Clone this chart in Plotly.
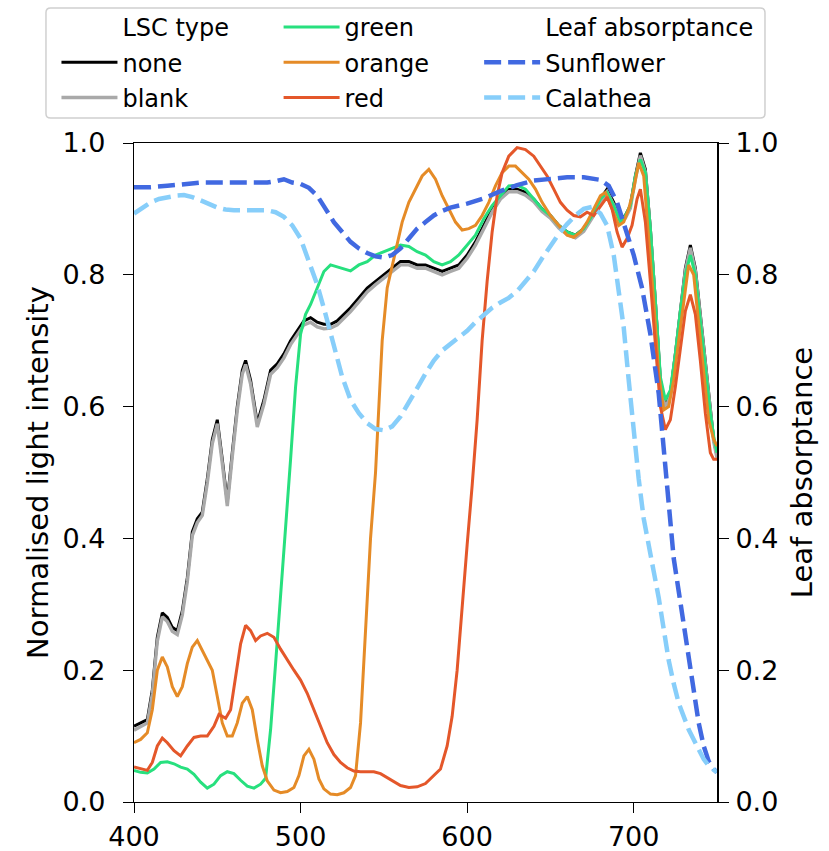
import plotly.graph_objects as go

# ---------------------------------------------------------------------------
# Normalised light intensity transmitted through each LSC type (left axis)
# ---------------------------------------------------------------------------
wl_none = [400, 404, 408, 411, 414, 417, 420, 423, 426, 429, 432, 435, 438, 441,
           444, 447, 450, 453, 456, 459, 462, 465, 467, 470, 474, 478, 482, 486,
           490, 494, 498, 502, 506, 510, 514, 518, 522, 526, 530, 535, 540, 545,
           550, 555, 560, 565, 570, 575, 580, 585, 590, 595, 600, 605, 610, 615,
           620, 625, 630, 635, 640, 645, 650, 655, 660, 665, 670, 675, 680, 684,
           688, 692, 695, 698, 701, 704, 707, 710, 713, 716, 719, 722, 725, 728,
           731, 734, 737, 740, 743, 746, 748, 750]
int_none = [0.115, 0.12, 0.125, 0.17, 0.25, 0.287, 0.28, 0.265, 0.26, 0.29, 0.34,
            0.41, 0.43, 0.44, 0.49, 0.55, 0.58, 0.52, 0.455, 0.53, 0.6, 0.655,
            0.67, 0.64, 0.575, 0.61, 0.655, 0.665, 0.68, 0.7, 0.715, 0.73, 0.735,
            0.728, 0.725, 0.725, 0.73, 0.74, 0.75, 0.765, 0.78, 0.79, 0.80, 0.81,
            0.82, 0.82, 0.815, 0.815, 0.81, 0.805, 0.81, 0.815, 0.83, 0.85, 0.875,
            0.9, 0.92, 0.93, 0.93, 0.925, 0.915, 0.9, 0.89, 0.875, 0.865, 0.86,
            0.87, 0.89, 0.915, 0.93, 0.91, 0.885, 0.89, 0.905, 0.95, 0.985, 0.96,
            0.87, 0.76, 0.64, 0.6, 0.62, 0.68, 0.75, 0.81, 0.845, 0.81, 0.74,
            0.67, 0.59, 0.55, 0.525]

wl_blank = wl_none
int_blank = [0.109, 0.114, 0.12, 0.164, 0.244, 0.281, 0.274, 0.259, 0.254, 0.284,
             0.334, 0.404, 0.424, 0.435, 0.484, 0.544, 0.574, 0.514, 0.449, 0.524,
             0.594, 0.649, 0.664, 0.634, 0.569, 0.604, 0.649, 0.659, 0.674, 0.694,
             0.709, 0.724, 0.728, 0.721, 0.718, 0.719, 0.724, 0.734, 0.744, 0.759,
             0.774, 0.785, 0.795, 0.805, 0.815, 0.815, 0.81, 0.81, 0.805, 0.8,
             0.805, 0.81, 0.825, 0.845, 0.87, 0.895, 0.915, 0.926, 0.926, 0.921,
             0.911, 0.896, 0.886, 0.871, 0.861, 0.856, 0.866, 0.886, 0.911, 0.926,
             0.906, 0.881, 0.886, 0.901, 0.946, 0.981, 0.956, 0.866, 0.756, 0.637,
             0.597, 0.617, 0.677, 0.746, 0.806, 0.841, 0.806, 0.736, 0.666, 0.587,
             0.547, 0.522]

wl_green = [400, 404, 408, 412, 416, 420, 424, 428, 432, 436, 440, 444, 448, 452,
            456, 460, 464, 468, 472, 476, 479, 482, 485, 488, 491, 494, 497, 500,
            503, 506, 510, 514, 518, 522, 526, 530, 535, 540, 545, 550, 555, 560,
            565, 570, 575, 580, 585, 590, 595, 600, 605, 610, 615, 620, 625, 630,
            635, 640, 645, 650, 655, 660, 665, 670, 675, 680, 684, 688, 692, 695,
            698, 701, 704, 707, 710, 713, 716, 719, 722, 725, 728, 731, 734, 737,
            740, 743, 746, 748, 750]
int_green = [0.048, 0.045, 0.044, 0.05, 0.06, 0.061, 0.058, 0.053, 0.05, 0.042,
             0.03, 0.021, 0.027, 0.04, 0.046, 0.043, 0.033, 0.024, 0.021, 0.027,
             0.036, 0.11, 0.21, 0.31, 0.41, 0.52, 0.63, 0.71, 0.74, 0.755, 0.78,
             0.805, 0.815, 0.812, 0.808, 0.806, 0.815, 0.82, 0.83, 0.835, 0.84,
             0.845, 0.843, 0.835, 0.83, 0.82, 0.815, 0.82, 0.83, 0.845, 0.86,
             0.885, 0.905, 0.92, 0.935, 0.936, 0.93, 0.915, 0.9, 0.89, 0.875,
             0.865, 0.86, 0.87, 0.89, 0.915, 0.925, 0.905, 0.88, 0.89, 0.905,
             0.95, 0.975, 0.955, 0.87, 0.76, 0.645, 0.61, 0.625, 0.68, 0.745, 0.8,
             0.83, 0.8, 0.73, 0.665, 0.59, 0.555, 0.53]

wl_orange = [400, 404, 408, 411, 414, 417, 420, 423, 426, 429, 432, 435, 438, 441,
             444, 447, 450, 453, 456, 459, 462, 465, 468, 471, 474, 477, 480, 484,
             488, 492, 496, 499, 502, 505, 508, 511, 514, 518, 522, 526, 530, 533,
             536, 539, 542, 545, 547, 549, 552, 555, 558, 561, 565, 569, 573, 577,
             581, 585, 589, 593, 597, 601, 605, 609, 613, 617, 621, 625, 629, 633,
             637, 641, 645, 650, 655, 660, 664, 668, 672, 676, 680, 683, 687, 691,
             694, 697, 700, 703, 706, 709, 712, 715, 718, 721, 724, 727, 730, 733,
             736, 739, 742, 745, 748, 750]
int_orange = [0.09, 0.095, 0.105, 0.14, 0.2, 0.22, 0.205, 0.175, 0.16, 0.175,
              0.21, 0.235, 0.245, 0.23, 0.215, 0.2, 0.16, 0.12, 0.1, 0.1, 0.12,
              0.15, 0.16, 0.14, 0.095, 0.055, 0.032, 0.018, 0.014, 0.016, 0.022,
              0.04, 0.07, 0.08, 0.065, 0.035, 0.02, 0.012, 0.011, 0.014, 0.022,
              0.04, 0.12, 0.26, 0.4, 0.5, 0.6, 0.7, 0.78, 0.815, 0.85, 0.88, 0.91,
              0.93, 0.95, 0.96, 0.945, 0.92, 0.9, 0.88, 0.868, 0.87, 0.875, 0.89,
              0.91, 0.935, 0.955, 0.965, 0.965, 0.955, 0.945, 0.93, 0.91, 0.89,
              0.875, 0.86, 0.857, 0.865, 0.88, 0.9, 0.92, 0.925, 0.9, 0.875, 0.88,
              0.9, 0.93, 0.97, 0.95, 0.86, 0.76, 0.65, 0.595, 0.6, 0.64, 0.7,
              0.76, 0.815, 0.8, 0.73, 0.65, 0.58, 0.55, 0.54]

wl_red = [400, 404, 408, 411, 414, 417, 420, 424, 428, 432, 436, 440, 444, 448,
          451, 455, 458, 461, 464, 467, 470, 473, 476, 480, 484, 488, 492, 496,
          500, 504, 508, 512, 516, 520, 524, 528, 532, 536, 540, 544, 548, 552,
          556, 560, 565, 570, 575, 580, 584, 588, 591, 594, 597, 600, 603, 606,
          609, 612, 615, 618, 621, 625, 630, 635, 640, 644, 648, 652, 656, 660,
          664, 668, 672, 676, 680, 684, 687, 690, 693, 696, 699, 702, 704, 707,
          710, 713, 716, 719, 722, 725, 728, 731, 734, 737, 740, 743, 746, 748,
          750]
int_red = [0.053, 0.05, 0.048, 0.06, 0.085, 0.097, 0.09, 0.078, 0.07, 0.085,
           0.098, 0.1, 0.1, 0.115, 0.133, 0.127, 0.14, 0.19, 0.24, 0.268, 0.26,
           0.245, 0.252, 0.256, 0.25, 0.232, 0.215, 0.2, 0.185, 0.165, 0.14,
           0.115, 0.09, 0.072, 0.06, 0.052, 0.047, 0.046, 0.046, 0.046, 0.043,
           0.037, 0.03, 0.025, 0.022, 0.023, 0.028, 0.04, 0.05, 0.085, 0.13, 0.2,
           0.3, 0.39, 0.48, 0.58, 0.7, 0.79, 0.865, 0.92, 0.955, 0.98, 0.993,
           0.99, 0.98, 0.965, 0.95, 0.93, 0.91, 0.898, 0.89, 0.888, 0.895, 0.89,
           0.905, 0.918, 0.9, 0.865, 0.842, 0.855, 0.875, 0.915, 0.93, 0.88,
           0.79, 0.69, 0.6, 0.565, 0.58, 0.63, 0.69, 0.745, 0.77, 0.74, 0.67,
           0.59, 0.53, 0.52, 0.52]

# ---------------------------------------------------------------------------
# Leaf absorptance spectra (right axis)
# ---------------------------------------------------------------------------
wl_sunflower = [400, 410, 420, 430, 440, 450, 460, 470, 480, 485, 490, 495, 500,
                505, 510, 515, 520, 525, 530, 535, 540, 545, 550, 555, 560, 565,
                570, 575, 580, 585, 590, 600, 610, 620, 630, 640, 650, 660, 670,
                680, 685, 690, 695, 700, 705, 710, 715, 718, 721, 724, 727, 730,
                733, 736, 739, 742, 745, 748, 750]
abs_sunflower = [0.933, 0.933, 0.935, 0.937, 0.94, 0.94, 0.94, 0.94, 0.94, 0.942,
                 0.945, 0.94, 0.938, 0.932, 0.92, 0.9, 0.88, 0.865, 0.85, 0.84,
                 0.833, 0.828, 0.826, 0.83, 0.84, 0.855, 0.87, 0.88, 0.89, 0.897,
                 0.902, 0.908, 0.916, 0.927, 0.936, 0.943, 0.946, 0.948, 0.948,
                 0.944, 0.935, 0.91, 0.87, 0.83, 0.78, 0.71, 0.62, 0.53, 0.44,
                 0.37, 0.32, 0.27, 0.22, 0.17, 0.12, 0.085, 0.062, 0.05, 0.045]

wl_calathea = [400, 405, 410, 415, 420, 425, 430, 435, 440, 445, 450, 455, 460,
               470, 480, 485, 490, 495, 500, 505, 510, 515, 520, 525, 530, 535,
               540, 545, 550, 555, 560, 565, 570, 575, 580, 585, 590, 595, 600,
               605, 610, 615, 620, 625, 630, 635, 640, 645, 650, 655, 660, 665,
               670, 675, 680, 684, 688, 691, 694, 697, 700, 703, 706, 709, 712,
               715, 718, 721, 724, 727, 730, 733, 736, 739, 742, 745, 748, 750]
abs_calathea = [0.893, 0.902, 0.91, 0.915, 0.918, 0.92, 0.921, 0.918, 0.913,
                0.908, 0.902, 0.899, 0.898, 0.898, 0.898, 0.895, 0.888, 0.875,
                0.855, 0.82, 0.785, 0.74, 0.69, 0.645, 0.61, 0.59, 0.575, 0.566,
                0.564, 0.57, 0.585, 0.605, 0.628, 0.65, 0.67, 0.685, 0.695, 0.705,
                0.715, 0.728, 0.74, 0.75, 0.758, 0.765, 0.775, 0.79, 0.805, 0.825,
                0.845, 0.862, 0.877, 0.89, 0.9, 0.903, 0.893, 0.875, 0.83, 0.78,
                0.72, 0.64, 0.56, 0.49, 0.43, 0.385, 0.35, 0.31, 0.26, 0.215,
                0.18, 0.15, 0.13, 0.11, 0.095, 0.08, 0.065, 0.055, 0.048, 0.045]

x_ticks = [400, 500, 600, 700]
y_ticks = [0.0, 0.2, 0.4, 0.6, 0.8, 1.0]

FONT = "DejaVu Sans"

fig = go.Figure()


def header(name, legend):
    # invisible line used as a heading row inside a legend column
    fig.add_trace(go.Scatter(x=[None], y=[None], mode="lines", name=name,
                             line=dict(color="rgba(0,0,0,0)", width=3),
                             legend=legend, legendgroup=name, hoverinfo="skip"))


def spectrum(x, y, name, color, width, legend, yaxis="y", dash="solid"):
    fig.add_trace(go.Scatter(x=x, y=y, mode="lines", name=name,
                             line=dict(color=color, width=width, dash=dash),
                             legend=legend, legendgroup=name, yaxis=yaxis))


header("LSC type", "legend")
spectrum(wl_none, int_none, "none", "#000000", 3, "legend")
spectrum(wl_blank, int_blank, "blank", "#a9a9a9", 3.4, "legend")
spectrum(wl_green, int_green, "green", "#27e07e", 3, "legend2")
spectrum(wl_orange, int_orange, "orange", "#e58b27", 3, "legend2")
spectrum(wl_red, int_red, "red", "#e4572a", 3, "legend2")
header("Leaf absorptance", "legend3")
spectrum(wl_sunflower, abs_sunflower, "Sunflower", "#4169e1", 4.5, "legend3",
         yaxis="y2", dash="17px,7px")
spectrum(wl_calathea, abs_calathea, "Calathea", "#87cefa", 4.5, "legend3",
         yaxis="y2", dash="17px,7px")

# legends are placed against the whole figure height so they never push margins
legend_style = dict(font=dict(family=FONT, size=24, color="#000000"),
                    bgcolor="rgba(0,0,0,0)", borderwidth=0,
                    traceorder="grouped", tracegroupgap=1, itemwidth=56,
                    xanchor="left", yanchor="top", yref="container", y=0.9941,
                    itemclick=False, itemdoubleclick=False)

# rounded frame around the three legend columns (paper coordinates)
fx0, fx1, fy0, fy1 = -0.151, 1.0823, 1.0379, 1.2049
rx, ry = 0.008, 0.007
frame_path = (f"M{fx0 + rx},{fy0} L{fx1 - rx},{fy0} Q{fx1},{fy0} {fx1},{fy0 + ry} "
              f"L{fx1},{fy1 - ry} Q{fx1},{fy1} {fx1 - rx},{fy1} "
              f"L{fx0 + rx},{fy1} Q{fx0},{fy1} {fx0},{fy1 - ry} "
              f"L{fx0},{fy0 + ry} Q{fx0},{fy0} {fx0 + rx},{fy0} Z")

tick_font = dict(family=FONT, size=27, color="#000000")
title_font = dict(family=FONT, size=29, color="#000000")

fig.update_layout(
    width=829, height=851,
    margin=dict(l=134, r=112, t=143, b=49),
    paper_bgcolor="white", plot_bgcolor="white",
    font=dict(family=FONT, size=24, color="#000000"),
    showlegend=True,
    legend=dict(legend_style, x=-0.133),
    legend2=dict(legend_style, x=0.248),
    legend3=dict(legend_style, x=0.592),
    xaxis=dict(range=[400, 750], tickvals=x_ticks, ticks="outside", ticklen=10,
               tickwidth=1.4, tickcolor="#000000", showline=True, linecolor="#000000",
               linewidth=1.4, mirror=True, showgrid=False, zeroline=False,
               tickfont=tick_font, ticklabelstandoff=0, automargin=False),
    yaxis=dict(range=[0, 1], tickvals=y_ticks, tickformat=".1f", ticks="outside",
               ticklen=10, tickwidth=1.4, tickcolor="#000000", showline=True,
               linecolor="#000000", linewidth=1.4, showgrid=False, zeroline=False,
               tickfont=tick_font, ticklabelstandoff=12, automargin=False,
               title=dict(text="Normalised light intensity", font=title_font,
                          standoff=5)),
    yaxis2=dict(range=[0, 1], tickvals=y_ticks, tickformat=".1f", ticks="outside",
                ticklen=10, tickwidth=1.4, tickcolor="#000000", showline=True,
                linecolor="#000000", linewidth=2, showgrid=False, zeroline=False,
                overlaying="y", side="right", tickfont=tick_font,
                ticklabelstandoff=1, automargin=False,
                title=dict(text="Leaf absorptance", font=title_font, standoff=14)),
    shapes=[dict(type="path", xref="paper", yref="paper", path=frame_path,
                 line=dict(color="#d0d0d0", width=1.5), fillcolor="rgba(0,0,0,0)",
                 layer="above")],
)

fig.write_html("out.html")
